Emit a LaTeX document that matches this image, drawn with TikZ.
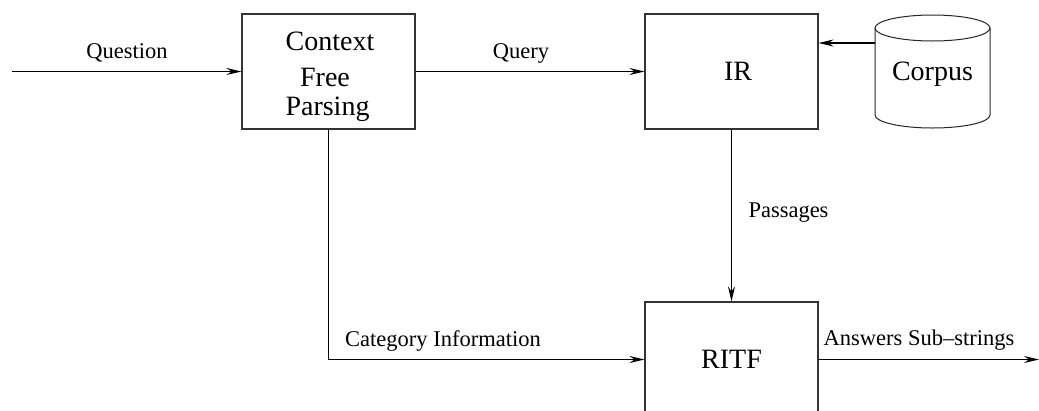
\documentclass[tikz,border=0pt]{standalone}
\usepackage{fontspec}
\setmainfont{Liberation Serif}
\usetikzlibrary{arrows.meta}
\begin{document}
\begin{tikzpicture}[x=1pt,y=-1pt,
  box/.style={draw=black!80,line width=1.1pt,minimum width=173pt,minimum height=115pt,inner sep=0pt},
  big/.style={font=\fontsize{28}{32}\selectfont,inner sep=0pt},
  lab/.style={font=\fontsize{22.5}{26}\selectfont,inner sep=0pt,anchor=base},
  conn/.style={line width=1.1pt,-{Stealth[length=15pt,width=7pt,inset=5pt]}},
  cyl/.style={line width=1pt,draw=black!85}]
\useasboundingbox (0,0) rectangle (1039,410);
\clip (0,0) rectangle (1039,410);
% boxes
\node[box] (cfp) at (328.5,71.5) {};
\node[box] (ir) at (731.5,71.5) {};
\node[box,big] (ritf) at (731.5,359.5) {RITF};
% box texts
\node[big,anchor=base] (t1) at (330,50) {Context};
\node[big,anchor=base] (t2) at (325,86.5) {Free};
\node[big,anchor=base] (t3) at (327.5,115) {Parsing};
\node[big] (irt) at (738,71) {IR};
% corpus cylinder
\draw[cyl] (875,28) -- (875,115) arc[start angle=180,end angle=0,x radius=57.5,y radius=13] -- (990,28);
\draw[cyl] (932.5,28) ellipse[x radius=57.5,y radius=13];
\node[big] (corpus) at (932.5,74) {Corpus};
\coordinate (corpw) at (875,43);
\coordinate (qin) at (12,71.5);
\coordinate (bend) at (cfp.south |- ritf.west);
\coordinate (out) at (1039,359.5);
% connectors
\draw[conn] (qin) -- (cfp.west);
\draw[conn] (cfp.east) -- (ir.west);
\draw[conn] (corpw) -- (corpw -| ir.east);
\draw[conn] (ir.south) -- (ritf.north);
\draw[conn] (cfp.south) -- (bend) -- (ritf.west);
\draw[conn] (ritf.east) -- (out);
% labels
\node[lab] (lq) at (127,58) {Question};
\node[lab] (lqu) at (521,58) {Query};
\node[lab] (lp) at (788.5,217) {Passages};
\node[lab] (lc) at (443,346) {Category Information};
\node[lab] (la) at (919,345) {Answers Sub–strings};
\end{tikzpicture}
\end{document}
